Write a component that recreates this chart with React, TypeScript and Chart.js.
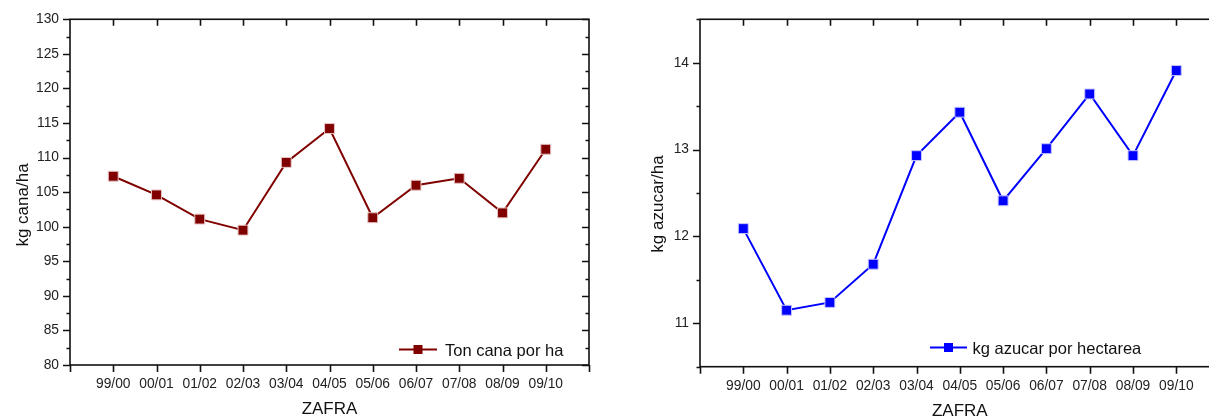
import React, { useEffect, useRef } from "react";
import { Chart, registerables } from "chart.js";

Chart.register(...registerables);

const categories = ["99/00", "00/01", "01/02", "02/03", "03/04", "04/05", "05/06", "06/07", "07/08", "08/09", "09/10"];
const caneValues = [107.3, 104.6, 101.1, 99.5, 109.3, 114.2, 101.3, 106.0, 107.0, 102.0, 111.2];
const sugarValues = [12.09, 11.15, 11.24, 11.68, 12.93, 13.43, 12.41, 13.01, 13.64, 12.93, 13.91];

const caneYTicks = [80, 85, 90, 95, 100, 105, 110, 115, 120, 125, 130];
const caneYMinor = [82.5, 87.5, 92.5, 97.5, 102.5, 107.5, 112.5, 117.5, 122.5, 127.5];
const sugarYTicks = [11, 12, 13, 14];
const sugarYMinor = [10.5, 11.5, 12.5, 13.5, 14.5];
const xAxisTicks = [0, 1, 2, 3, 4, 5, 6, 7, 8, 9, 10, 11, 12];

const FONT = "'Liberation Sans', Arial, sans-serif";

const framePlugin = {
  id: "frame",
  afterDraw(chart: any, _args: any, opts: any) {
    const { ctx, chartArea: a, scales } = chart;
    const xs = scales.x;
    const ys = scales.y;
    ctx.save();
    ctx.strokeStyle = "#111";
    ctx.lineWidth = 1.6;
    ctx.strokeRect(a.left, a.top, a.right - a.left, a.bottom - a.top);
    ctx.beginPath();
    for (const v of xAxisTicks) {
      const px = Math.round(xs.getPixelForValue(v)) + 0.5;
      ctx.moveTo(px, a.bottom);
      ctx.lineTo(px, a.bottom + 7);
      if (v > 0 && v < 12) {
        ctx.moveTo(px, a.top);
        ctx.lineTo(px, a.top + 6.5);
      }
    }
    for (const v of opts.yMajor) {
      const py = Math.round(ys.getPixelForValue(v)) + 0.5;
      ctx.moveTo(a.left - 7, py);
      ctx.lineTo(a.left, py);
      ctx.moveTo(a.right - 7, py);
      ctx.lineTo(a.right, py);
    }
    for (const v of opts.yMinor) {
      const py = Math.round(ys.getPixelForValue(v)) + 0.5;
      ctx.moveTo(a.left - 3.5, py);
      ctx.lineTo(a.left, py);
      ctx.moveTo(a.right - 3.5, py);
      ctx.lineTo(a.right, py);
    }
    ctx.stroke();

    // axis titles
    ctx.fillStyle = "#111";
    ctx.font = `17px ${FONT}`;
    ctx.textAlign = "center";
    ctx.textBaseline = "alphabetic";
    ctx.fillText(opts.xTitle, (a.left + a.right) / 2, opts.xTitleY);
    ctx.save();
    ctx.translate(opts.yTitleX, opts.yTitleCY);
    ctx.rotate(-Math.PI / 2);
    ctx.fillText(opts.yTitle, 0, 0);
    ctx.restore();

    // legend
    const ds = chart.data.datasets[0];
    const L = opts.legend;
    ctx.strokeStyle = ds.borderColor;
    ctx.lineWidth = 2;
    ctx.beginPath();
    ctx.moveTo(L.x1, L.y);
    ctx.lineTo(L.x2, L.y);
    ctx.stroke();
    const cx = (L.x1 + L.x2) / 2;
    ctx.fillStyle = ds.borderColor;
    ctx.fillRect(cx - 4.5, L.y - 4.5, 9, 9);
    ctx.fillStyle = "#111";
    ctx.font = `16.5px ${FONT}`;
    ctx.textAlign = "left";
    ctx.fillText(ds.label, L.textX, L.textY);
    ctx.restore();
  },
};

function makeConfig(p: any) {
  return {
    type: "line",
    data: {
      datasets: [
        {
          label: p.label,
          data: p.values.map((v: number, i: number) => ({ x: i + 1, y: v })),
          borderColor: p.color,
          backgroundColor: p.color,
          borderWidth: 2,
          tension: 0,
          pointStyle: "rect",
          pointRadius: 7,
          pointHoverRadius: 7,
          pointBorderWidth: 1,
          pointBorderColor: p.pointBorder,
          pointBackgroundColor: p.color,
        },
      ],
    },
    options: {
      responsive: false,
      animation: false,
      events: [],
      layout: { padding: { top: 19, right: p.padRight, left: 0, bottom: 0 } },
      plugins: {
        legend: { display: false },
        tooltip: { enabled: false },
        frame: {
          yMajor: p.yTicks,
          yMinor: p.yMinor,
          xTitle: "ZAFRA",
          xTitleY: p.xTitleY,
          yTitle: p.yTitle,
          yTitleX: p.yTitleX,
          yTitleCY: p.yTitleCY,
          legend: p.legend,
        },
      },
      scales: {
        x: {
          type: "linear",
          min: 0,
          max: 12,
          afterBuildTicks: (s: any) => {
            s.ticks = categories.map((_c, i) => ({ value: i + 1 }));
          },
          afterFit: (s: any) => {
            s.height = p.xHeight;
          },
          grid: { display: false, drawTicks: false },
          border: { display: false },
          ticks: {
            autoSkip: false,
            maxRotation: 0,
            padding: 11,
            color: "#222",
            font: { family: FONT, size: 13.8 },
            callback: (v: number) => categories[v - 1] ?? "",
          },
        },
        y: {
          type: "linear",
          min: p.yMin,
          max: p.yMax,
          afterBuildTicks: (s: any) => {
            s.ticks = p.yTicks.map((v: number) => ({ value: v }));
          },
          afterFit: (s: any) => {
            s.width = p.yWidth;
          },
          grid: { display: false, drawTicks: false },
          border: { display: false },
          ticks: {
            padding: 11,
            color: "#222",
            font: { family: FONT, size: 13.8 },
            callback: (v: number) => String(v),
          },
        },
      },
    },
    plugins: [framePlugin],
  };
}

function ChartCanvas({ config, width, height, left }: any) {
  const ref = useRef<HTMLCanvasElement | null>(null);
  useEffect(() => {
    if (!ref.current) return;
    const chart = new Chart(ref.current, config);
    return () => chart.destroy();
  }, []);
  return (
    <canvas
      ref={ref}
      width={width}
      height={height}
      style={{ position: "absolute", left, top: 0, width, height }}
    />
  );
}

export default function App() {
  const leftConfig = makeConfig({
    label: "Ton cana por ha",
    values: caneValues,
    color: "#800000",
    pointBorder: "#e6c4c4",
    yTicks: caneYTicks,
    yMinor: caneYMinor,
    yMin: 80,
    yMax: 130,
    yWidth: 70,
    xHeight: 53,
    padRight: 11,
    xTitleY: 413.5,
    yTitle: "kg cana/ha",
    yTitleX: 28,
    yTitleCY: 205,
    legend: { x1: 399, x2: 437, y: 349.5, textX: 445, textY: 356 },
  });
  const rightConfig = makeConfig({
    label: "kg azucar por hectarea",
    values: sugarValues,
    color: "#0000ff",
    pointBorder: "#c4c4ff",
    yTicks: sugarYTicks,
    yMinor: sugarYMinor,
    yMin: 10.5,
    yMax: 14.5,
    yWidth: 100,
    xHeight: 51.3,
    padRight: 20.4,
    xTitleY: 416,
    yTitle: "kg azucar/ha",
    yTitleX: 63,
    yTitleCY: 204,
    legend: { x1: 330, x2: 367, y: 347.5, textX: 372.5, textY: 353.5 },
  });
  return (
    <div
      style={{
        position: "fixed",
        left: 0,
        top: 0,
        width: 1209,
        height: 418,
        overflow: "hidden",
        background: "#fff",
      }}
    >
      <ChartCanvas config={leftConfig} width={600} height={418} left={0} />
      <ChartCanvas config={rightConfig} width={640} height={418} left={600} />
    </div>
  );
}
